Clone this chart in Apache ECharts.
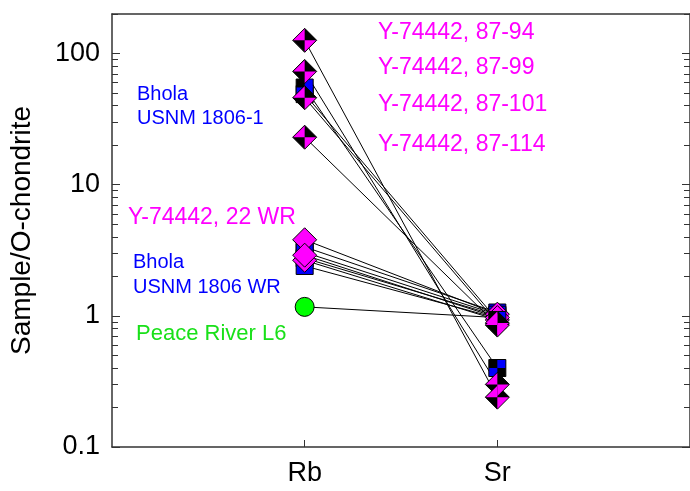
<!DOCTYPE html>
<html>
<head>
<meta charset="UTF-8">
<title>Rb - Sr</title>
<script src="https://cdn.jsdelivr.net/npm/echarts@6/dist/echarts.min.js"></script>
<style>
html, body { margin: 0; padding: 0; background: #fff; }
#main { width: 690px; height: 491px; }
</style>
</head>
<body>
<div id="main"></div>
<script>
// x positions of the elements (1 = Rb, 2 = Sr)
var elements = ['Rb', 'Sr'];
var majorTicks = [0.1, 1, 10, 100];
var minorTicks = [0.2, 0.3, 0.4, 0.5, 0.6, 0.7, 0.8, 0.9,
                  2, 3, 4, 5, 6, 7, 8, 9,
                  20, 30, 40, 50, 60, 70, 80, 90, 200];

// Y-74442 residues: 87-94, 87-99, 87-101, 87-114
var resRb = [126, 73, 46, 23];
var resSr = [0.24, 0.30, 0.88, 0.85];
// Bhola USNM 1806-1
var bholaRb = [55, 49];
var bholaSr = [0.40, 0.93];
// Y-74442, 22 WR
var yWrRb = [3.8, 2.65, 2.9];
var yWrSr = [1.03, 0.93, 0.97];
// Bhola USNM 1806 WR
var bWrRb = [3.35, 2.75, 2.4, 3.05];
var bWrSr = [1.06, 1.0, 0.96, 1.02];
// Peace River L6
var prRb = [1.17];
var prSr = [0.97];

var app = echarts.init(document.getElementById('main'));

var AXIS = '#333';
var DIAMOND_Q = 'path://M0,-1L0,0L-1,0ZM0,1L0,0L1,0Z';
var SQUARE_Q = 'path://M0,0L0,-1L1,-1L1,0ZM0,0L-1,0L-1,1L0,1Z';

function points(rb, sr) {
	var d = [];
	for (var i = 0; i < rb.length; i++) {
		d.push([1, rb[i]]);
		d.push([2, sr[i]]);
	}
	return d;
}

var groups = [
	{ rb: prRb, sr: prSr, symbol: 'circle', size: 19, color: '#00ff00' },
	{ rb: bWrRb, sr: bWrSr, symbol: 'rect', size: 17, color: '#0000ff' },
	{ rb: yWrRb, sr: yWrSr, symbol: 'diamond', size: 24, color: '#ff00ff' },
	{ rb: bholaRb, sr: bholaSr, symbol: 'rect', size: 17, color: '#000', over: SQUARE_Q, overColor: '#0000ff' },
	{ rb: resRb, sr: resSr, symbol: 'diamond', size: 24, color: '#000', over: DIAMOND_Q, overColor: '#ff00ff' }
];

var series = [];
// connecting lines first so every marker sits on top of them
groups.forEach(function(g) {
	for (var i = 0; i < g.rb.length; i++) {
		series.push({
			type: 'line',
			data: [[1, g.rb[i]], [2, g.sr[i]]],
			symbol: 'none',
			lineStyle: { color: '#000', width: 1 },
			z: 2,
			silent: true
		});
	}
});
groups.forEach(function(g, k) {
	series.push({
		type: 'scatter',
		data: points(g.rb, g.sr),
		symbol: g.symbol,
		symbolSize: g.size,
		itemStyle: { color: g.color, borderColor: '#000', borderWidth: 1, opacity: 1 },
		z: 10 + k * 2
	});
	if (g.over) {
		series.push({
			type: 'scatter',
			data: points(g.rb, g.sr),
			symbol: g.over,
			symbolSize: g.size - 1,
			itemStyle: { color: g.overColor, borderWidth: 0, opacity: 1 },
			z: 11 + k * 2
		});
	}
});

function label(text, x, y, color, size) {
	return {
		type: 'text',
		x: x,
		y: y,
		style: {
			text: text,
			fill: color,
			font: size + 'px "Liberation Sans", Arial, sans-serif',
			verticalAlign: 'middle'
		},
		z: 100
	};
}

var yBase = {
	type: 'log',
	logBase: 10,
	min: 0.1,
	max: 200,
	splitLine: { show: false }
};

option = {
	backgroundColor: '#fff',
	animation: false,
	textStyle: { fontFamily: '"Liberation Sans", Arial, sans-serif' },
	grid: { left: 110, width: 585, top: 14, bottom: 44 },
	xAxis: [{
		type: 'value',
		min: 0,
		max: 3,
		interval: 1,
		position: 'bottom',
		axisLine: { onZero: false, lineStyle: { color: AXIS, width: 1.5 } },
		axisTick: { inside: true, length: 7, customValues: [1, 2], lineStyle: { color: AXIS } },
		axisLabel: {
			customValues: [1, 2],
			fontSize: 27,
			color: '#000',
			margin: 13,
			formatter: function(v) { return elements[v - 1] || ''; }
		},
		splitLine: { show: false }
	}, {
		type: 'value',
		min: 0,
		max: 3,
		position: 'top',
		axisLine: { onZero: false, lineStyle: { color: AXIS, width: 1.5 } },
		axisTick: { show: false },
		axisLabel: { show: false },
		splitLine: { show: false }
	}],
	yAxis: [
		Object.assign({}, yBase, {
			position: 'left',
			name: 'Sample/O-chondrite',
			nameLocation: 'middle',
			nameGap: 76,
			nameTextStyle: { fontSize: 28, color: '#000' },
			axisLine: { show: true, onZero: false, lineStyle: { color: AXIS, width: 1.5 } },
			axisTick: { inside: true, length: 8, customValues: majorTicks, lineStyle: { color: AXIS } },
			axisLabel: {
				customValues: majorTicks,
				fontSize: 27,
				color: '#000',
				margin: 12,
				formatter: function(v) { return String(v); }
			}
		}),
		Object.assign({}, yBase, {
			position: 'left',
			axisLine: { show: false, onZero: false },
			axisTick: { inside: true, length: 6, customValues: minorTicks, lineStyle: { color: AXIS } },
			axisLabel: { show: false }
		}),
		Object.assign({}, yBase, {
			position: 'right',
			axisLine: { show: true, onZero: false, lineStyle: { color: AXIS, width: 1.5 } },
			axisTick: { inside: true, length: 8, customValues: majorTicks, lineStyle: { color: AXIS } },
			axisLabel: { show: false }
		}),
		Object.assign({}, yBase, {
			position: 'right',
			axisLine: { show: false, onZero: false },
			axisTick: { inside: true, length: 6, customValues: minorTicks, lineStyle: { color: AXIS } },
			axisLabel: { show: false }
		})
	],
	graphic: [
		label('Y-74442, 87-94', 378, 33, '#ff00ff', 23),
		label('Y-74442, 87-99', 378, 68, '#ff00ff', 23),
		label('Y-74442, 87-101', 378, 105, '#ff00ff', 23),
		label('Y-74442, 87-114', 378, 145, '#ff00ff', 23),
		label('Bhola', 137, 94, '#0000ff', 20),
		label('USNM 1806-1', 137, 118, '#0000ff', 20),
		label('Y-74442, 22 WR', 128, 218, '#ff00ff', 23),
		label('Bhola', 133, 262, '#0000ff', 20),
		label('USNM 1806 WR', 133, 287, '#0000ff', 20),
		label('Peace River L6', 136, 334, '#19e019', 22)
	],
	series: series
};
app.setOption(option);
</script>
</body>
</html>
